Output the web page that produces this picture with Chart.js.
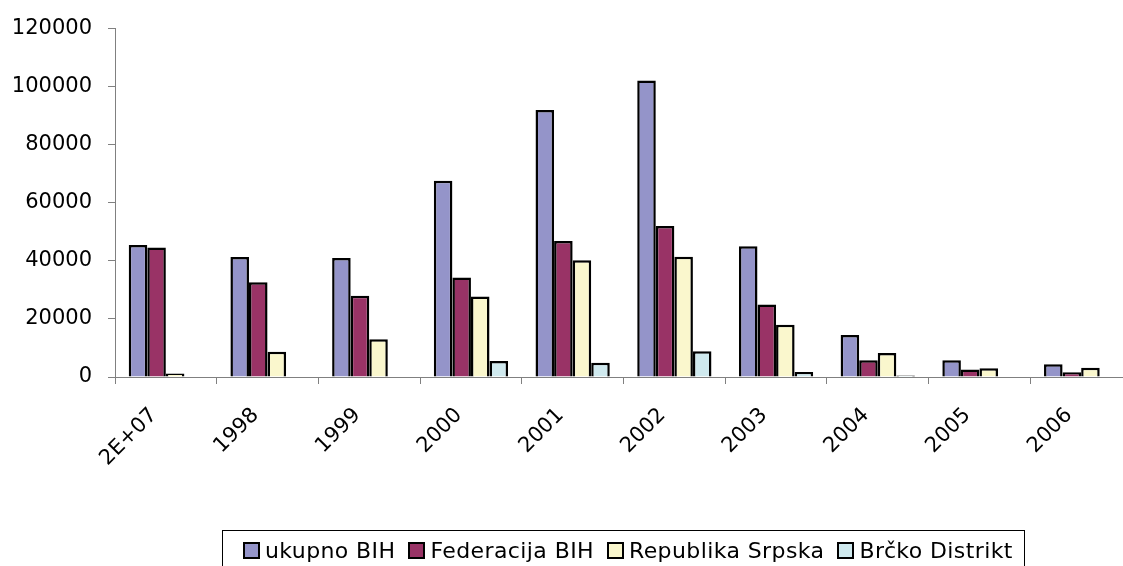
<!DOCTYPE html>
<html>
<head>
<meta charset="utf-8">
<script src="https://cdn.jsdelivr.net/npm/chart.js@4.4.1/dist/chart.umd.min.js"></script>
<style>
    html, body { margin: 0; padding: 0; background: #fff; overflow: hidden; width: 1123px; height: 566px; }
    #wrap { position: absolute; left: 0; top: 0; width: 1140px; height: 566px; }
    #legend {
        position: absolute; left: 222px; top: 530px; height: 46px;
        border: 1px solid #000; box-sizing: border-box;
        display: flex; align-items: center;
        padding: 0 11px 6px 20px;
        font: 22px 'DejaVu Sans', Verdana, sans-serif; letter-spacing: 0.4px;
        color: #000; white-space: nowrap;
    }
    #legend .item { display: flex; align-items: center; margin-right: 13px; }
    #legend .item:last-child { margin-right: 0; }
    #legend .box { width: 13px; height: 13px; border: 2px solid #000; margin-right: 5px; }
</style>
</head>
<body>
<div id="wrap"><canvas id="chart" width="1140" height="566"></canvas></div>
<div id="legend"></div>
<script>
    // categories (first label is as printed in the source chart)
    const categories = ['2E+07', '1998', '1999', '2000', '2001', '2002', '2003', '2004', '2005', '2006'];
    const seriesNames = ['ukupno BIH', 'Federacija BIH', 'Republika Srpska', 'Brčko Distrikt'];

    const ukupnoBIH     = [45500, 41300, 41000, 67600, 92000, 102100, 45000, 14500, 5800, 4400];
    const federacijaBIH = [44600, 32600, 28000, 34300, 46800, 52000, 25000, 5800, 2600, 1600];
    const republikaSrp  = [1200, 8700, 13000, 27700, 40200, 41400, 18000, 8300, 3000, 3200];
    const brckoDistrikt = [null, null, null, 5500, 4900, 8900, 1700, 500, null, null];

    const yTicks = [0, 20000, 40000, 60000, 80000, 100000, 120000];

    const colors = ['#9494C9', '#993366', '#FAF7CD', '#CFE9EE'];
    const font = { family: "'DejaVu Sans', Verdana, sans-serif", size: 21 };

    const seriesData = [ukupnoBIH, federacijaBIH, republikaSrp, brckoDistrikt];
    const datasets = seriesData.map((d, i) => ({
        label: seriesNames[i],
        data: d,
        backgroundColor: colors[i],
        borderColor: '#000',
        borderWidth: 2.5,
        categoryPercentage: 0.73,
        barPercentage: 1.0
    }));

    const chart = new Chart(document.getElementById('chart'), {
        type: 'bar',
        data: { labels: categories, datasets: datasets },
        options: {
            responsive: false,
            animation: false,
            layout: { padding: { top: 25, right: 8, left: 0, bottom: 0 } },
            plugins: { legend: { display: false }, tooltip: { enabled: false } },
            scales: {
                x: {
                    grid: { offset: true, drawOnChartArea: false, tickLength: 7, color: '#808080' },
                    border: { color: '#808080', width: 1 },
                    ticks: { font: font, color: '#000', minRotation: 45, maxRotation: 45, padding: 19, labelOffset: -12 },
                    afterFit: function(scale) { scale.height = 189; }
                },
                y: {
                    min: yTicks[0],
                    max: yTicks[yTicks.length - 1],
                    grid: { drawOnChartArea: false, tickLength: 7, color: '#808080' },
                    border: { color: '#808080', width: 1 },
                    ticks: {
                        stepSize: yTicks[1] - yTicks[0],
                        font: font, color: '#000', padding: 16,
                        callback: function(v) { return String(v); }
                    },
                    afterFit: function(scale) { scale.width = 115; }
                }
            }
        }
    });

    // HTML legend built from the datasets
    const legend = document.getElementById('legend');
    chart.data.datasets.forEach(ds => {
        const item = document.createElement('div');
        item.className = 'item';
        const box = document.createElement('span');
        box.className = 'box';
        box.style.background = ds.backgroundColor;
        const txt = document.createElement('span');
        txt.textContent = ds.label;
        item.appendChild(box);
        item.appendChild(txt);
        legend.appendChild(item);
    });
</script>
</body>
</html>
